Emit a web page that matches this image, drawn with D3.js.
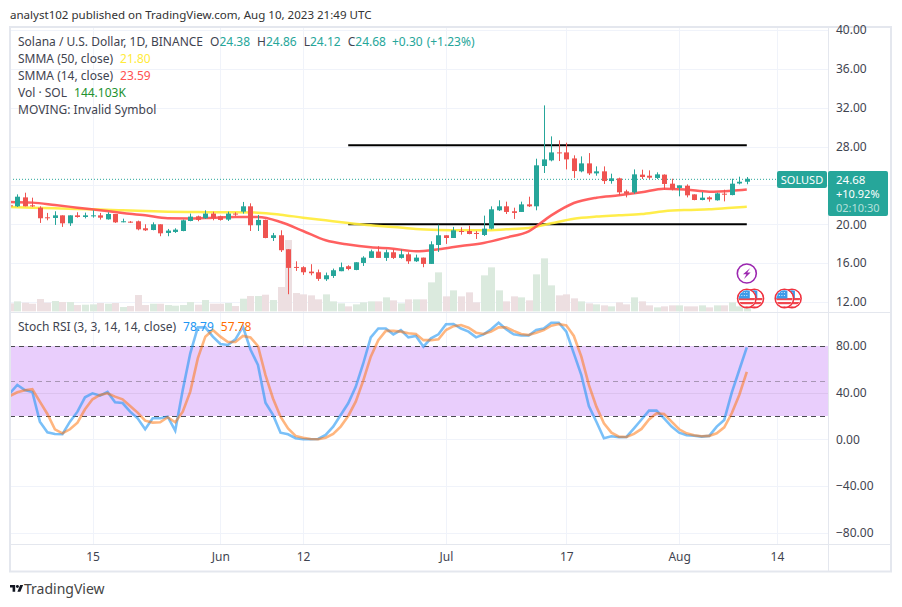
<!DOCTYPE html>
<html>
<head>
<meta charset="utf-8">
<title>SOLUSD daily</title>
<script src="https://cdnjs.cloudflare.com/ajax/libs/d3/7.8.5/d3.min.js"></script>
<style>
  html, body { margin: 0; padding: 0; background: #fff; }
  svg { display: block; }
  text { font-family: "Noto Sans", sans-serif; font-size: 12px; fill: #3f4450; }
</style>
</head>
<body>
<svg id="chart" width="902" height="607"></svg>
<script>
// Daily SOL/USD session values, May 4 to Aug 10 2023
const firstDay = "2023-05-04";
const opens = [21.95,21.85,22.77,21.95,21.71,20.72,20.65,20.92,20.10,20.92,20.75,20.82,20.92,20.51,21.06,20.24,20.27,20.31,19.59,19.41,20.00,19.11,19.21,19.31,20.34,20.82,20.62,21.10,20.82,20.48,21.10,21.30,21.85,19.90,20.45,18.59,18.87,17.43,15.61,15.58,15.13,15.06,14.34,14.68,15.17,15.68,15.30,16.02,16.54,17.19,16.54,17.12,16.54,16.91,16.19,16.57,15.92,17.87,18.87,18.59,19.31,19.31,19.11,18.90,19.55,21.44,21.85,21.34,21.27,22.05,21.85,26.00,26.58,27.40,27.40,26.78,25.45,26.27,25.24,25.45,24.45,24.73,23.39,23.29,25.11,25.00,24.77,25.11,24.18,23.74,23.97,23.08,22.50,22.77,22.47,23.15,23.01,24.20,24.38];
const highs = [22.10,23.08,23.25,22.74,21.85,21.17,21.34,20.92,20.92,21.24,21.20,21.44,21.17,21.24,21.06,20.58,20.34,20.38,20.00,20.20,20.00,19.52,19.59,20.48,21.10,20.89,21.44,21.30,20.89,21.30,21.24,22.30,22.16,20.96,20.48,19.11,19.38,17.43,16.19,15.68,15.89,15.34,15.03,15.44,16.06,15.78,16.09,16.71,17.39,17.74,17.39,17.39,17.39,17.12,16.88,16.57,18.25,19.96,18.87,19.73,19.69,19.86,19.31,20.89,21.85,22.47,22.33,21.71,22.33,22.84,26.75,32.24,29.05,28.64,28.40,27.10,26.99,27.33,25.96,25.96,25.21,24.80,23.56,25.65,25.62,25.55,25.35,25.14,24.69,24.01,24.11,23.08,23.32,22.88,23.25,23.56,24.69,24.90,24.86];
const lows = [21.75,21.78,21.85,21.78,20.14,20.41,19.93,19.73,19.83,20.68,20.61,20.68,20.48,20.48,20.14,20.20,20.14,19.38,19.31,19.38,18.77,18.77,19.11,19.28,20.31,20.31,20.55,20.41,20.38,20.34,20.86,21.10,19.31,19.31,18.56,18.28,17.15,12.80,15.20,14.79,14.75,14.17,14.17,14.48,15.17,15.27,15.27,15.71,16.54,16.54,16.23,16.43,16.47,15.92,16.12,15.58,15.92,17.15,17.98,18.59,18.93,18.97,18.49,18.80,19.48,21.37,21.06,20.55,21.27,21.78,21.44,25.28,26.48,26.51,25.65,24.77,25.35,25.07,25.00,24.15,24.18,22.98,22.77,23.15,24.66,24.66,24.66,23.56,23.49,22.88,22.77,22.47,22.47,22.33,22.43,22.36,22.98,24.11,24.12];
const closes = [21.85,22.84,21.85,21.85,20.62,20.62,20.92,20.10,20.92,20.75,20.92,20.92,20.68,21.06,20.20,20.31,20.20,19.48,19.38,20.00,19.07,19.35,19.45,20.41,20.79,20.45,21.10,20.62,20.45,21.10,21.03,21.85,19.90,20.45,18.59,18.87,17.33,15.51,15.51,15.06,14.96,14.38,14.75,15.27,15.58,15.40,16.09,16.57,17.22,16.54,17.12,16.54,16.91,16.19,16.57,15.92,17.94,18.87,18.59,19.38,19.21,19.00,19.00,19.55,21.54,21.85,21.27,21.17,22.05,21.85,26.07,26.68,27.40,27.33,26.68,25.48,26.27,25.24,25.45,24.45,24.73,23.29,23.15,25.14,24.87,24.80,25.14,24.15,23.60,24.01,22.98,22.50,22.74,22.57,23.18,23.05,24.18,24.38,24.68];
const volumesK = [300,372,324,288,456,324,384,348,348,240,252,264,312,288,312,168,204,600,240,288,288,240,216,240,348,252,420,288,288,312,204,468,564,564,612,420,888,2580,672,624,588,444,624,372,300,192,264,336,372,372,516,408,300,444,444,444,1056,1416,552,768,552,696,336,1308,1596,768,372,552,516,408,1344,1920,948,588,624,480,372,300,264,228,192,336,264,516,372,228,156,192,228,228,192,192,228,156,228,228,336,192,144.103];

// Smoothed averages, sampled every third session plus the latest one
const smmaDayIndex = [0,3,6,9,12,15,18,21,24,27,30,33,36,39,42,45,48,51,54,57,60,63,66,69,72,75,78,81,84,87,90,93,96,98];
const smma50 = [21.78,21.71,21.64,21.57,21.51,21.44,21.37,21.30,21.27,21.23,21.23,21.20,20.99,20.68,20.41,20.14,19.90,19.73,19.52,19.42,19.38,19.38,19.48,19.62,20.10,20.58,20.79,20.92,21.06,21.34,21.47,21.54,21.71,21.80];
const smma14 = [22.30,22.23,21.98,21.71,21.44,21.17,20.92,20.62,20.60,20.68,20.75,20.75,20.24,19.31,18.35,17.91,17.63,17.49,17.22,17.43,17.77,18.08,18.63,19.28,20.92,22.19,22.74,22.98,23.29,23.67,23.56,23.36,23.46,23.59];

// Stochastic RSI, one reading per session
const stochK = [39.4,46.6,42.3,40.6,15.1,6,4.6,4.3,15.1,23.7,36,39.4,37.4,40.6,31.7,31.1,23.7,18,8.6,18,18,19.4,7.4,42.3,73.7,96,96,88,81.7,80.9,85.7,96.6,77,63.7,31.4,20.9,5.7,4.3,0.9,0,0,0.3,3.7,10.9,20.9,30.9,45,65,87.4,95,95,90,93.7,87.4,88.6,79.4,86.6,90,98.6,98.9,95,92.3,87.4,90,94.3,100,94.3,90,89,89,93.7,95,100,100,92.3,73.7,55,28.6,15,0.9,2.6,1.7,2,9.4,17,24.6,24.6,18,10.9,5.7,3.4,3.1,2.3,2.9,10.9,16.6,40,59.4,78.79];
const stochD = [37.1,40.3,42,42.9,32.3,21.7,8.6,5.1,8.6,14.3,25.7,34.3,38,39.4,36.6,34.3,28.6,22.9,16,14.3,14.6,18.9,14.6,23.7,40.9,69.4,88,93.7,88,83.4,83.4,88.6,87.4,80,55,35,19.4,9.4,2.9,1.4,0.3,0,1.4,4.6,10.9,20,32.3,50.3,70.9,85,93,93,92.3,90.9,90.3,85,85,85.7,93.7,97,98,95.7,91.4,90.3,92.3,96,96,93,90.3,89.4,91.4,93.7,97.4,98.9,97.7,88.6,70.9,46.6,28,13.7,5.7,2.3,2,4.6,8.9,17,22.3,21.7,15.1,8.6,5.1,3.4,2.6,2.9,5.1,10.3,22.3,38,57.78];

// Axis labels and annotations
const priceGridTicks = [12,16,20,24,28,32,36,40];
const priceAxisTicks = [12,16,20,28,32,36,40];
const stochTicks = [-80,-40,0,40,80];
const stochBands = [20,50,80];
const dateTicks = ["2023-05-15","2023-06-01","2023-06-12","2023-07-01","2023-07-17","2023-08-01","2023-08-14"];
const dateTickLabels = ["15","Jun","12","Jul","17","Aug","14"];
const rangeLevels = [28.13,20.0];
const rangeDays = ["2023-06-18","2023-08-10"];
const lastPrice = 24.68;
const flagDays = ["2023-08-11","2023-08-10","2023-08-16","2023-08-15"];

const GREEN = "#26a69a", RED = "#ef5350", GRID = "#f0f3fa", BORDER = "#e4e7ee";
const parseDay = d => new Date(d + "T00:00:00Z");
const days = opens.map((_, i) => d3.utcDay.offset(parseDay(firstDay), i));

const x = d3.scaleUtc().domain([parseDay("2023-05-05"), parseDay("2023-08-10")]).range([17.3, 746.8]);
const y = d3.scaleLinear().domain([12, 40]).range([302, 30]);
const yVol = d3.scaleLinear().domain([0, 2880]).range([311.7, 231.7]);
const yStoch = d3.scaleLinear().domain([-80, 80]).range([532.6, 346]);

const svg = d3.select("#chart");
const px = v => Math.round(v) + 0.5;

svg.append("text").attr("x", 10).attr("y", 19).style("font-size", "11.55px").style("fill", "#333")
  .text("analyst102 published on TradingView.com, Aug 10, 2023 21:49 UTC");

const defs = svg.append("defs");
defs.append("clipPath").attr("id", "pricePane").append("rect").attr("x", 10).attr("y", 28).attr("width", 818).attr("height", 283.5);
defs.append("clipPath").attr("id", "stochPane").append("rect").attr("x", 10).attr("y", 313).attr("width", 818).attr("height", 231);

// Vertical and horizontal grid
const grid = svg.append("g").attr("stroke", GRID).attr("stroke-width", 1);
grid.selectAll(".v").data(dateTicks).join("line")
  .attr("x1", d => px(x(parseDay(d)))).attr("x2", d => px(x(parseDay(d))))
  .attr("y1", 28).attr("y2", 544);
grid.selectAll(".h").data(priceGridTicks).join("line")
  .attr("x1", 10).attr("x2", 828).attr("y1", d => px(y(d))).attr("y2", d => px(y(d)));
grid.selectAll(".s").data(stochTicks).join("line")
  .attr("x1", 10).attr("x2", 828).attr("y1", d => px(yStoch(d))).attr("y2", d => px(yStoch(d)));

// Price pane
const price = svg.append("g").attr("clip-path", "url(#pricePane)");
price.selectAll(".vol").data(days).join("rect")
  .attr("x", d => Math.round(x(d)) - 3)
  .attr("width", 7)
  .attr("y", (d, i) => yVol(volumesK[i]))
  .attr("height", (d, i) => yVol(0) - yVol(volumesK[i]))
  .attr("fill", (d, i) => closes[i] >= opens[i] ? "#dbeade" : "#eddfe1");

price.append("line").attr("x1", 10).attr("x2", 828)
  .attr("y1", y(lastPrice) + 0.5).attr("y2", y(lastPrice) + 0.5)
  .attr("stroke", GREEN).attr("stroke-width", 1).attr("stroke-dasharray", "1 2");

price.selectAll(".range").data(rangeLevels).join("line")
  .attr("x1", x(parseDay(rangeDays[0]))).attr("x2", x(parseDay(rangeDays[1])))
  .attr("y1", d => y(d)).attr("y2", d => y(d))
  .attr("stroke", "#000").attr("stroke-width", 2);

const smmaLine = d3.line()
  .x(d => x(d3.utcDay.offset(parseDay(firstDay), d.i)))
  .y(d => y(d.v))
  .curve(d3.curveMonotoneX);
[[smma50, "#ffeb3b"], [smma14, "#ff5252"]].forEach(([vals, colour]) => {
  price.append("path")
    .attr("d", smmaLine(vals.map((v, k) => ({ i: smmaDayIndex[k], v }))))
    .attr("fill", "none").attr("stroke", colour).attr("stroke-width", 2.5).attr("stroke-opacity", 0.92);
});

const candle = price.selectAll(".candle").data(days).join("g")
  .attr("stroke", (d, i) => closes[i] >= opens[i] ? GREEN : RED)
  .attr("fill", (d, i) => closes[i] >= opens[i] ? GREEN : RED);
candle.append("line")
  .attr("x1", d => px(x(d))).attr("x2", d => px(x(d)))
  .attr("y1", (d, i) => y(highs[i])).attr("y2", (d, i) => y(lows[i]))
  .attr("stroke-width", 1);
candle.append("rect")
  .attr("x", d => Math.round(x(d)) - 2)
  .attr("width", 5)
  .attr("y", (d, i) => y(Math.max(opens[i], closes[i])))
  .attr("height", (d, i) => Math.max(1, Math.abs(y(opens[i]) - y(closes[i]))))
  .attr("stroke", "none");

// Event markers floating above the volume bars
const markers = svg.append("g");
const lastX = x(parseDay("2023-08-10"));
markers.append("circle").attr("cx", lastX).attr("cy", 273.5).attr("r", 9.5)
  .attr("fill", "#fff").attr("stroke", "#9c27b0").attr("stroke-width", 1.6);
markers.append("path")
  .attr("transform", `translate(${lastX},273.5)`)
  .attr("d", "M3.5,-5.5 L-3.8,0.8 L-0.4,0.8 L-2.8,5.5 L3.8,-1 L0.4,-1 Z")
  .attr("fill", "#9c27b0");
flagDays.forEach((d, k) => {
  const cx = x(parseDay(d)), cy = 298.5;
  const g = markers.append("g").attr("transform", `translate(${cx},${cy})`);
  const id = "flag" + k;
  defs.append("clipPath").attr("id", id).append("circle").attr("r", 8.2);
  g.append("circle").attr("r", 9.2).attr("fill", "#fff").attr("stroke", "#f0323f").attr("stroke-width", 1.6);
  const f = g.append("g").attr("clip-path", `url(#${id})`);
  f.append("rect").attr("x", -9).attr("y", -9).attr("width", 18).attr("height", 18).attr("fill", "#fff");
  [-0.5, 3.5, 7.5].forEach(s => f.append("rect").attr("x", -9).attr("y", s).attr("width", 18).attr("height", 2.2).attr("fill", "#f0484f"));
  f.append("rect").attr("x", -9).attr("y", -9).attr("width", 12).attr("height", 9).attr("fill", "#3d9be9");
  [-6, -3].forEach(s => f.append("line").attr("x1", -8).attr("x2", 2).attr("y1", s).attr("y2", s)
    .attr("stroke", "#d8ecfb").attr("stroke-width", 1).attr("stroke-dasharray", "1 1.5"));
});

// Stochastic pane
const stoch = svg.append("g").attr("clip-path", "url(#stochPane)");
stoch.append("rect").attr("x", 10).attr("width", 818)
  .attr("y", yStoch(80)).attr("height", yStoch(20) - yStoch(80))
  .attr("fill", "#e9cefc");
stoch.selectAll(".band").data(stochBands).join("line")
  .attr("x1", 10).attr("x2", 828).attr("y1", d => px(yStoch(d))).attr("y2", d => px(yStoch(d)))
  .attr("stroke", d => d === 50 ? "#a896b4" : "#4a4a50")
  .attr("stroke-width", 1).attr("stroke-dasharray", "5 4");
stoch.selectAll(".gridInBand").data([40]).join("line")
  .attr("x1", 10).attr("x2", 828).attr("y1", d => px(yStoch(d))).attr("y2", d => px(yStoch(d)))
  .attr("stroke", "#dcc2ee");
const stochLine = d3.line().x((v, i) => x(days[i])).y(v => yStoch(v));
stoch.append("path").attr("d", stochLine(stochK)).attr("fill", "none")
  .attr("stroke", "#2196f3").attr("stroke-opacity", 0.6).attr("stroke-width", 2.6);
stoch.append("path").attr("d", stochLine(stochD)).attr("fill", "none")
  .attr("stroke", "#ff6d00").attr("stroke-opacity", 0.5).attr("stroke-width", 2.6);

// Frame and pane separators
const frame = svg.append("g").attr("fill", "none").attr("stroke", BORDER);
frame.append("rect").attr("x", 10).attr("y", 27).attr("width", 881).attr("height", 544.5).attr("stroke-width", 2);
frame.append("line").attr("x1", 10).attr("x2", 891).attr("y1", 312.5).attr("y2", 312.5);
frame.append("line").attr("x1", 10).attr("x2", 891).attr("y1", 544.5).attr("y2", 544.5);
frame.append("line").attr("x1", 828.5).attr("x2", 828.5).attr("y1", 27).attr("y2", 571);

// Axes; the 24.00 price label sits under the last price tag
const priceAxis = d3.axisRight(y).tickValues(priceAxisTicks).tickSize(0).tickPadding(7).tickFormat(d3.format(".2f"));
const stochAxis = d3.axisRight(yStoch).tickValues(stochTicks).tickSize(0).tickPadding(7).tickFormat(d3.format(".2f"));
const timeAxis = d3.axisBottom(x).tickValues(dateTicks.map(parseDay)).tickSize(0).tickPadding(8)
  .tickFormat((d, i) => dateTickLabels[i]);
[svg.append("g").attr("transform", "translate(829,0)").call(priceAxis),
 svg.append("g").attr("transform", "translate(829,0)").call(stochAxis),
 svg.append("g").attr("transform", "translate(0,544)").call(timeAxis)].forEach(g => {
  g.select(".domain").remove();
  g.attr("font-family", null).attr("font-size", null);
});

// Last price tags
svg.append("rect").attr("x", 777).attr("y", 171).attr("width", 50).attr("height", 17).attr("rx", 2).attr("fill", GREEN);
svg.append("text").attr("x", 802).attr("y", 183.5).attr("text-anchor", "middle").style("fill", "#fff").style("font-size", "11px").text("SOLUSD");
svg.append("rect").attr("x", 828).attr("y", 171).attr("width", 60).attr("height", 45).attr("rx", 2).attr("fill", GREEN);
svg.append("text").attr("x", 836).attr("y", 184).style("fill", "#fff").style("font-size", "11.5px").text(lastPrice.toFixed(2));
svg.append("text").attr("x", 836).attr("y", 198).style("fill", "#fff").style("font-size", "11px").text("+10.92%");
svg.append("text").attr("x", 836).attr("y", 211.5).style("fill", "#b5e0dc").style("font-size", "11px").text("02:10:30");

// Legend rows
function legendRow(yPos, parts) {
  const t = svg.append("text").attr("x", 18).attr("y", yPos);
  parts.forEach(([s, c, dx]) => t.append("tspan").attr("dx", dx || 0).style("fill", c || "#3f4450").text(s));
}
const UP = "#26a69a";
legendRow(46, [["Solana / U.S. Dollar, 1D, BINANCE"], ["O", null, 7], ["24.38", UP], ["H", null, 7], ["24.86", UP], ["L", null, 7], ["24.12", UP], ["C", null, 7], ["24.68", UP], ["+0.30", UP, 6], ["(+1.23%)", UP, 4]]);
legendRow(63, [["SMMA (50, close)"], ["21.80", "#ffeb3b", 7]]);
legendRow(80, [["SMMA (14, close)"], ["23.59", "#ff5252", 7]]);
legendRow(97, [["Vol · SOL"], ["144.103K", "#22912e", 7]]);
legendRow(114, [["MOVING: Invalid Symbol"]]);
legendRow(331, [["Stoch RSI (3, 3, 14, 14, close)"], ["78.79", "#2196f3", 7], ["57.78", "#ff6d00", 7]]);

// Publisher mark
const logo = svg.append("g").attr("transform", "translate(10,583.5) scale(0.37)").attr("fill", "#131722");
logo.append("path").attr("d", "M14 22H7V11H0V4h14v18zM28 22h-8l7.5-18h8L28 22z");
logo.append("circle").attr("cx", 20).attr("cy", 8).attr("r", 4);
svg.append("text").attr("x", 24).attr("y", 594).style("font-size", "14px").style("fill", "#444").text("TradingView");
</script>
</body>
</html>
